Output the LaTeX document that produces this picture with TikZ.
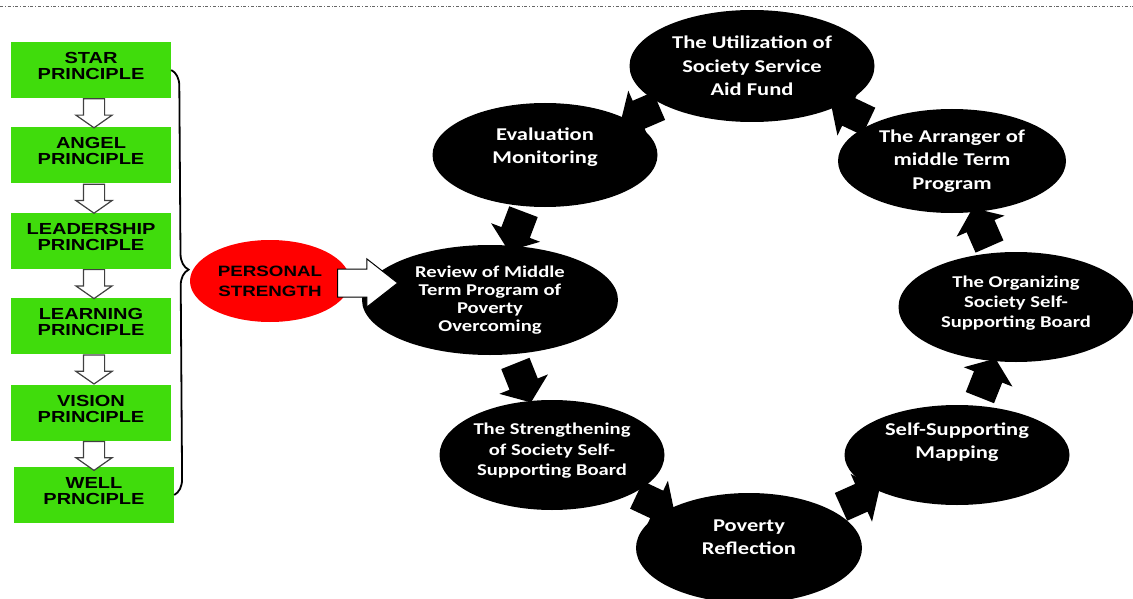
\documentclass[tikz,border=0pt]{standalone}
\usepackage{fontspec}
\usetikzlibrary{positioning, shapes.geometric, shapes.arrows, decorations.pathreplacing}
\newfontfamily\boxfont[FakeStretch=1.25]{Liberation Sans}
\newfontfamily\stagefont[FakeStretch=1.25]{Carlito}
\definecolor{boxgreen}{RGB}{64,220,12}
\tikzset{
  principle/.style = {rectangle, fill=boxgreen, minimum width=160pt, minimum height=56pt, align=center,
    text depth=8pt, font=\boxfont\bfseries\fontsize{16}{16}\selectfont},
  nextarrow/.style = {single arrow, draw=black!75, fill=white, line width=1.2pt, rotate=-90, anchor=tail,
    inner xsep=0pt, inner ysep=10pt, single arrow head extend=7.5pt, single arrow tip angle=110, minimum height=29pt},
  stage/.style = {ellipse, fill=black, inner sep=0pt},
  stagetext/.style = {text=white, align=center, font=\stagefont\bfseries\fontsize{18}{23.5}\selectfont},
  cyc/.style = {single arrow, fill=black, inner xsep=0pt, inner ysep=15pt, single arrow head extend=11pt,
    single arrow tip angle=106, minimum height=42pt, sloped, allow upside down}
}
\begin{document}
\begin{tikzpicture}[x=1pt, y=-1pt]
\useasboundingbox (0,0) rectangle (1133,599);
\draw[black!60, line width=0.6pt, dash dot] (0,6) -- (1133,6);
\node[principle] (star) at (91,70) {STAR\\PRINCIPLE};
\node[principle, below=29pt of star] (angel) {ANGEL\\PRINCIPLE};
\node[principle, below=29pt of angel] (leader) {LEADERSHIP\\PRINCIPLE};
\node[principle, below=29pt of leader] (learn) {LEARNING\\PRINCIPLE};
\node[principle, below=30pt of learn] (vision) {VISION\\PRINCIPLE};
\node[principle, below=26pt of vision, xshift=3pt] (well) {WELL\\PRNCIPLE};
\foreach \u in {star, angel, leader, learn, vision}
  \node[nextarrow] at ([xshift=3pt]\u.south) {};
\draw[decorate, decoration={brace, amplitude=16pt, aspect=0.47}, line width=1.8pt] (star.east) -- (well.east);
\node[ellipse, fill=red, minimum width=160pt, minimum height=82pt, align=center,
  font=\boxfont\bfseries\fontsize{15}{20}\selectfont] (pers) at (270,281) {PERSONAL\\STRENGTH};
\node[stage, minimum width=245pt, minimum height=112pt] (util) at (752,66) {};
\node[stage, minimum width=225pt, minimum height=104pt] (eval) at (545,155) {};
\node[stage, minimum width=256pt, minimum height=110pt] (review) at (490,300) {};
\node[stage, minimum width=225pt, minimum height=110pt] (strength) at (552,455) {};
\node[stage, minimum width=226pt, minimum height=110pt] (reflect) at (749,548) {};
\node[stage, minimum width=225pt, minimum height=100pt] (mapping) at (957,455) {};
\node[stage, minimum width=235pt, minimum height=110pt] (organize) at (1016,307) {};
\node[stage, minimum width=228pt, minimum height=104pt] (arranger) at (952,161) {};
\node[stagetext] at (util) {The Utilization of\\Society Service\\Aid Fund};
\node[stagetext] at ([yshift=8pt]eval) {Evaluation\\Monitoring};
\node[stagetext, font=\stagefont\bfseries\fontsize{16.5}{18}\selectfont] at (review) {Review of Middle\\Term Program of\\Poverty\\Overcoming};
\node[stagetext, font=\stagefont\bfseries\fontsize{16.5}{20.5}\selectfont] at ([yshift=4pt]strength) {The Strengthening\\of Society Self-\\Supporting Board};
\node[stagetext] at ([yshift=11pt]reflect) {Poverty\\Reflection};
\node[stagetext] at ([yshift=13pt]mapping) {Self-Supporting\\Mapping};
\node[stagetext, font=\stagefont\bfseries\fontsize{16.5}{20}\selectfont] at ([yshift=4pt]organize) {The Organizing\\Society Self-\\Supporting Board};
\node[stagetext] at (arranger) {The Arranger of\\middle Term\\Program};
\foreach \a/\b in {util/eval, eval/review, review/strength, strength/reflect, reflect/mapping, mapping/organize, organize/arranger, arranger/util}
  \path (\a) -- (\b) node[cyc, midway] {};
\node[single arrow, draw, fill=white, line width=1pt, inner xsep=0pt, inner ysep=13.5pt, single arrow head extend=10pt,
  single arrow tip angle=76, minimum height=60pt, anchor=tail] (push) at ([xshift=-13pt, yshift=-2pt]pers.east) {};
\end{tikzpicture}
\end{document}
